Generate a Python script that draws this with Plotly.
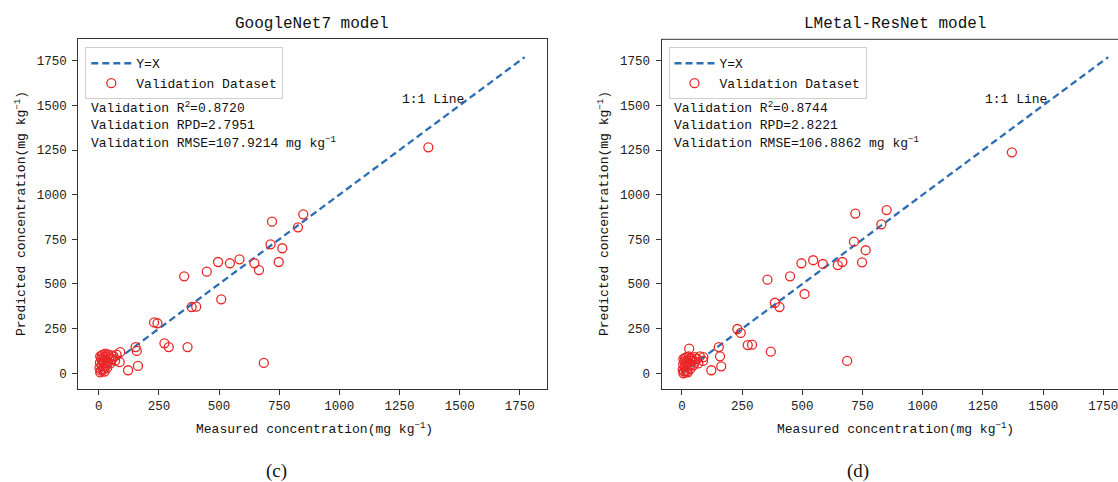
import plotly.graph_objects as go

# ---------------- data ----------------
tick_values = [0, 250, 500, 750, 1000, 1250, 1500, 1750]
line_xy = [0, 1770]

measured = [850, 828, 763, 748, 720, 714, 686, 666, 647, 585, 545, 509, 496, 449,
            405, 386, 369, 355, 291, 273, 244, 230, 163, 158, 153, 122, 89, 87, 1370,
            3, 5, 6, 8, 10, 12, 13, 15, 16, 18, 20, 22, 24, 26, 28, 30, 33, 36, 40,
            44, 48, 52, 56, 62, 68, 74, 6, 20, 35]

pred_googlenet = [890, 817, 700, 623, 849, 722, 58, 578, 616, 638, 616, 414, 623, 569,
                  373, 371, 147, 543, 147, 168, 280, 285, 41, 125, 147, 17, 118, 62, 1265,
                  30, 60, 95, 15, 80, 45, 100, 25, 70, 105, 55, 90, 10, 75, 110, 40, 95, 65, 105,
                  85, 55, 100, 80, 95, 70, 105, 5, 20, 30]

pred_lmetal = [914, 834, 689, 621, 894, 737, 69, 623, 606, 612, 633, 444, 616, 543,
               371, 395, 121, 524, 160, 158, 226, 248, 39, 95, 147, 17, 90, 69, 1237,
               20, 50, 80, 10, 65, 35, 85, 15, 55, 90, 40, 70, 5, 60, 95, 138, 80, 50, 85,
               70, 45, 90, 65, 80, 55, 95, 0, 10, 25]

titles = ["GoogleNet7 model", "LMetal-ResNet model"]
captions = ["(c)", "(d)"]
stats_google = ["Validation R<sup>2</sup>=0.8720", "Validation RPD=2.7951",
                "Validation RMSE=107.9214 mg kg<sup>\u22121</sup>"]
stats_lmetal = ["Validation R<sup>2</sup>=0.8744", "Validation RPD=2.8221",
                "Validation RMSE=106.8862 mg kg<sup>\u22121</sup>"]
xlabel = "Measured concentration(mg kg<sup>\u22121</sup>)"
ylabel = "Predicted concentration(mg kg<sup>\u22121</sup>)"

# ---------------- style ----------------
W, H = 1118, 482
MONO = "Liberation Mono"
LINE_COLOR = "#2d6db5"
PT_COLOR = "rgb(234,38,38)"

def px_x(p):
    return p / W

def px_y(p):
    return 1 - p / H

fig = go.Figure()

for i, (pred, xa, ya, leg) in enumerate([(pred_googlenet, "x", "y", "legend"),
                                         (pred_lmetal, "x2", "y2", "legend2")]):
    fig.add_trace(go.Scatter(x=line_xy, y=line_xy, mode="lines", name="Y=X",
                             line=dict(color=LINE_COLOR, width=2.3, dash="7px,4px"),
                             xaxis=xa, yaxis=ya, legend=leg))
    fig.add_trace(go.Scatter(x=measured, y=pred, mode="markers", name="Validation Dataset",
                             marker=dict(symbol="circle-open", size=9, color=PT_COLOR,
                                         line=dict(width=1.3, color=PT_COLOR)),
                             xaxis=xa, yaxis=ya, legend=leg))

axis_common = dict(tickvals=tick_values, ticks="outside", ticklen=5, tickwidth=1,
                   tickcolor="#333", showline=True, linecolor="#333", linewidth=1,
                   showgrid=False, zeroline=False,
                   tickfont=dict(family=MONO, size=12.5, color="#222"))

y_dom = [px_y(389), px_y(39.3)]

legend_common = dict(yanchor="top", xanchor="left", bgcolor="white", bordercolor="#d0d0d0",
                     borderwidth=1, itemwidth=40, tracegroupgap=0,
                     font=dict(family=MONO, size=13, color="#111"))

fig.update_layout(
    width=W, height=H, autosize=False,
    margin=dict(l=0, r=0, t=0, b=0),
    paper_bgcolor="white", plot_bgcolor="white",
    xaxis=dict(domain=[px_x(78.3), px_x(547)], range=[-85, 1863], anchor="y",
               mirror=True, **axis_common),
    yaxis=dict(domain=y_dom, range=[-88, 1870], anchor="x", mirror=True,
               ticklabelstandoff=3, **axis_common),
    xaxis2=dict(domain=[px_x(661.5), 1.0], range=[-85, 1810.8], anchor="y2",
                mirror=False, ticklabeloverflow="allow", **axis_common),
    yaxis2=dict(domain=y_dom, range=[-88, 1870], anchor="x2", mirror=False,
                ticklabelstandoff=3, **axis_common),
    legend=dict(x=px_x(85.3), y=px_y(47.3), **legend_common),
    legend2=dict(x=px_x(668.5), y=px_y(47.3), **legend_common),
    showlegend=True,
)

# top border of the (clipped) right panel
fig.add_shape(type="line", xref="x2 domain", yref="y2 domain", x0=0, x1=1, y0=1, y1=1,
              line=dict(color="#333", width=1))

annotations = []
panels = [
    dict(title_x=312, text_x=88.9, stats=stats_google, cap_x=276, xr="x", yr="y", ylab_x=20, xlab_x=314),
    dict(title_x=895, text_x=672, stats=stats_lmetal, cap_x=858, xr="x2", yr="y2", ylab_x=603, xlab_x=895),
]
for k, p in enumerate(panels):
    annotations.append(dict(text=titles[k], x=px_x(p["title_x"]), y=px_y(24), xref="paper", yref="paper",
                            xanchor="center", yanchor="middle", showarrow=False,
                            font=dict(family=MONO, size=16, color="#111")))
    for j, (t, yy) in enumerate(zip(p["stats"], [107.3, 125.3, 142.7])):
        annotations.append(dict(text=t, x=px_x(p["text_x"]), y=px_y(yy), xref="paper", yref="paper",
                                xanchor="left", yanchor="middle", showarrow=False,
                                font=dict(family=MONO, size=13, color="#111")))
    annotations.append(dict(text="1:1 Line", x=1250, y=1532, xref=p["xr"], yref=p["yr"],
                            xanchor="left", yanchor="middle", showarrow=False,
                            font=dict(family=MONO, size=13, color="#111")))
    annotations.append(dict(text=xlabel, x=px_x(p["xlab_x"]), y=px_y(428), xref="paper", yref="paper",
                            xanchor="center", yanchor="middle", showarrow=False,
                            font=dict(family=MONO, size=13, color="#111")))
    annotations.append(dict(text=ylabel, x=px_x(p["ylab_x"]), y=px_y(214), xref="paper", yref="paper",
                            xanchor="center", yanchor="middle", showarrow=False, textangle=-90,
                            font=dict(family=MONO, size=13, color="#111")))
    annotations.append(dict(text=captions[k], x=px_x(p["cap_x"]), y=px_y(471), xref="paper", yref="paper",
                            xanchor="center", yanchor="middle", showarrow=False,
                            font=dict(family="Liberation Serif", size=19, color="#111")))

fig.update_layout(annotations=annotations)

fig.write_html("out.html",
               config={"displayModeBar": False},
               post_script="document.body.style.margin='0';document.body.style.overflow='hidden';")
